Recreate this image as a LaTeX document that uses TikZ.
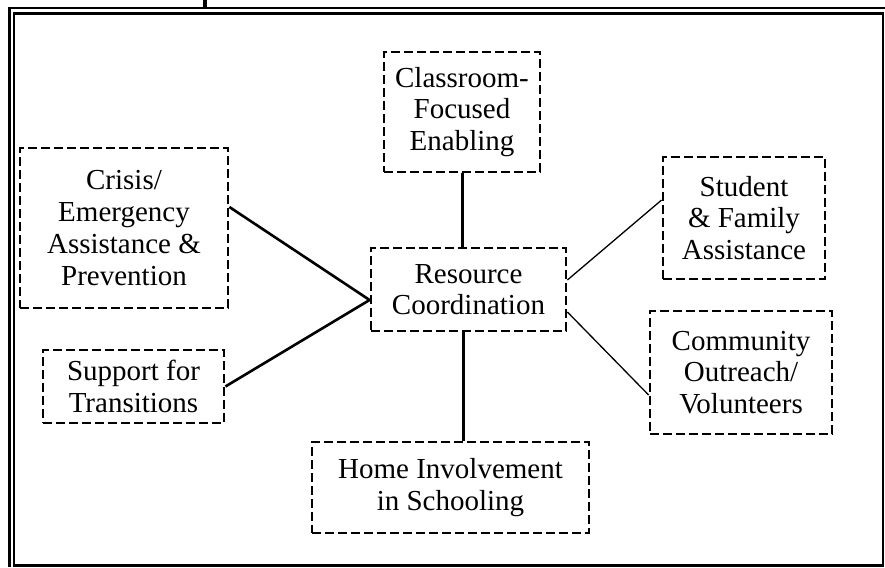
\documentclass[tikz,border=0pt]{standalone}
\usepackage{fontspec}
\setmainfont{Liberation Serif}
\usetikzlibrary{calc}
\begin{document}
\begin{tikzpicture}[x=1pt,y=-1pt,
  box/.style={draw, line width=2.8pt, dash pattern=on 9pt off 4pt, inner sep=0pt,
    align=center, font=\fontsize{29}{31.7}\selectfont, anchor=center},
  thickline/.style={line width=2.6pt},
  thinline/.style={line width=1.3pt},
  frame/.style={line width=2.8pt}]
\useasboundingbox (0,0) rectangle (885,567);
% frame
\draw[frame] (8,8) -- (885,8);
\draw[frame] (13.5,13.5) -- (883,13.5);
\draw[frame] (9.5,7) -- (9.5,567);
\draw[frame] (14,12.5) -- (14,567);
\draw[frame] (883,12.5) -- (883,567);
\draw[frame] (14,565.5) -- (884,565.5);
\draw[line width=3.5pt] (205,0) -- (205,8);
% boxes
\node[box, minimum width=156pt, minimum height=120pt] (cls) at (462,112) {Classroom-\\Focused\\Enabling};
\node[box, minimum width=195pt, minimum height=83pt] (res) at (468.5,289.5) {Resource\\Coordination};
\node[box, minimum width=277pt, minimum height=91pt] (home) at (450.5,487.5) {Home Involvement\\in Schooling};
\node[box, minimum width=208pt, minimum height=160pt] (cri) at (124,228) {Crisis/\\Emergency\\Assistance \&\\Prevention};
\node[box, minimum width=181pt, minimum height=73pt] (sup) at (133.5,386.5) {Support for\\Transitions};
\node[box, minimum width=162pt, minimum height=122pt] (stu) at (744,218) {Student\\\& Family\\Assistance};
\node[box, minimum width=182pt, minimum height=123pt] (com) at (741,372.5) {Community\\Outreach/\\Volunteers};
% connectors
\draw[line width=3pt] (cls.south) -- (cls.south |- res.north);
\draw[line width=3pt] ([xshift=-5.5pt]res.south) -- ([xshift=-5.5pt]res.south |- home.north);
\draw[thickline] ([yshift=21pt]cri.east) -- ([yshift=-10.5pt]res.west);
\draw[thickline] (sup.east) -- ([yshift=-10.5pt]res.west);
\draw[thinline] ([yshift=9.5pt]res.east) -- ([yshift=18pt]stu.west);
\draw[thinline] ([yshift=-22.5pt]res.east) -- ([yshift=-22.5pt]com.west);
\end{tikzpicture}
\end{document}
